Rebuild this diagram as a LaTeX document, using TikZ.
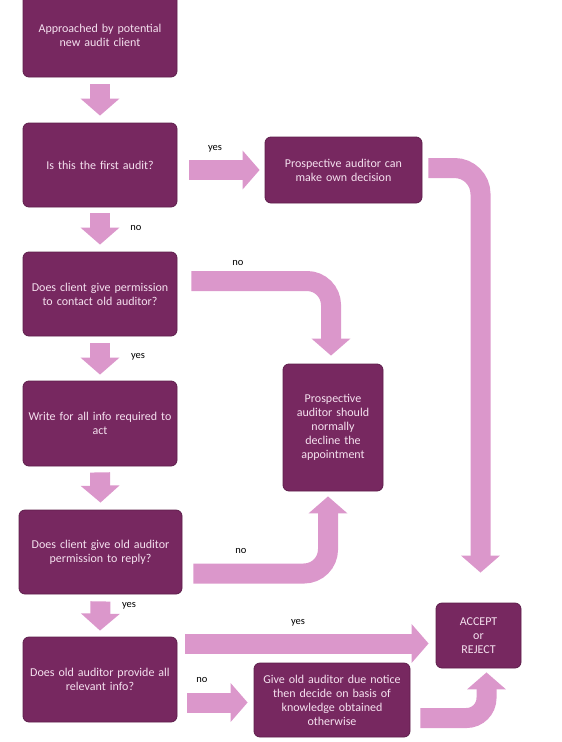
\documentclass[tikz,border=0pt]{standalone}
\usepackage{fontspec}
\setmainfont{Carlito}
\usetikzlibrary{arrows.meta,positioning,calc}
\definecolor{boxfill}{HTML}{772860}
\definecolor{boxline}{HTML}{5E1E4B}
\definecolor{boxtext}{HTML}{F5E1EF}
\definecolor{arrowpink}{HTML}{DB97CB}
\tikzset{
  box/.style={rounded corners=6pt, fill=boxfill, draw=boxline, line width=0.8pt,
    text=boxtext, align=center, inner sep=0pt, font=\fontsize{12}{14}\selectfont},
  fat/.style={line width=20pt, draw=arrowpink, -{Triangle[width=38pt,length=17pt]}},
  lbl/.style={inner sep=0pt, font=\fontsize{10.5}{12}\selectfont}
}
\begin{document}
\begin{tikzpicture}[x=1pt,y=-1pt]
                \useasboundingbox (0,0) rectangle (562,742);
                % boxes
                \node[box, text width=154pt, minimum height=84pt] (b1) at (100,35) {Approached by potential\\new audit client};
                \node[box, text width=154pt, minimum height=84pt] (b2) at (100,165) {Is this the first audit?};
                \node[box, text width=157pt, minimum height=66pt] (b3) at (343.5,170) {Prospective auditor can\\make own decision};
                \node[box, text width=154pt, minimum height=84pt] (b4) at (100,294) {Does client give permission\\to contact old auditor?};
                \node[box, text width=154pt, minimum height=85pt] (b5) at (100,423.5) {Write for all info required to\\act};
                \node[box, text width=100pt, minimum height=127pt] (b6) at (333,427.5) {Prospective\\auditor should\\normally\\decline the\\appointment};
                \node[box, text width=163pt, minimum height=84pt] (b7) at (100.5,552) {Does client give old auditor\\permission to reply?};
                \node[box, text width=154pt, minimum height=85pt] (b8) at (100,679.5) {Does old auditor provide all\\relevant info?};
                \node[box, text width=85pt, minimum height=65pt] (b9) at (478.5,635.5) {ACCEPT\\or\\REJECT};
                \node[box, text width=156pt, minimum height=74pt] (b10) at (332,700) {Give old auditor due notice\\then decide on basis of\\knowledge obtained\\otherwise};
                % down arrows
                \draw[fat] ([yshift=-7pt]b1.south) -- ([yshift=7pt]b2.north);
                \draw[fat] ([yshift=-6pt]b2.south) -- ([yshift=7pt]b4.north);
                \draw[fat] ([yshift=-7pt]b4.south) -- ([yshift=6pt]b5.north);
                \draw[fat] ([yshift=-6pt]b5.south) -- ([yshift=7pt]b7.north);
                \draw[fat] ([yshift=-7pt]b7.south) -- ([yshift=6pt]b8.north);
                % side arrows
                \draw[fat] ($(b2.east|-b3.west)+(12,0)$) -- ($(b3.west)+(-5,0)$);
                \draw[fat, rounded corners=26pt] ($(b3.east)+(6,-2)$) -| ($(b9.north)+(2,-30)$);
                \draw[fat, rounded corners=24pt] ($(b4.east)+(14,-13)$) -| ($(b6.north)+(-2,-8)$);
                \draw[fat, rounded corners=24pt] ($(b7.east)+(11,21.5)$) -| ($(b6.south)+(-5,5)$);
                \draw[fat] ($(b8.east|-b9.west)+(8,8)$) -- ($(b9.west)+(-7,8)$);
                \draw[fat] ($(b8.east|-b10.west)+(10,2.5)$) -- ($(b10.west)+(-6,2.5)$);
                \draw[fat, rounded corners=20pt] ($(b10.east)+(10,18)$) -| ($(b9.south)+(8,4)$);
                % labels
                \node[lbl] (no1) at (136,228) {no};
                \node[lbl] (yes2) at (138,357) {yes};
                \node[lbl] (yes3) at (129,606) {yes};
                \node[lbl] (yes1) at (215,149) {yes};
                \node[lbl] (no2) at (238,263) {no};
                \node[lbl] (no3) at (241,551) {no};
                \node[lbl] (yes4) at (298,623) {yes};
                \node[lbl] (no4) at (202,680) {no};
            \end{tikzpicture}
\end{document}
